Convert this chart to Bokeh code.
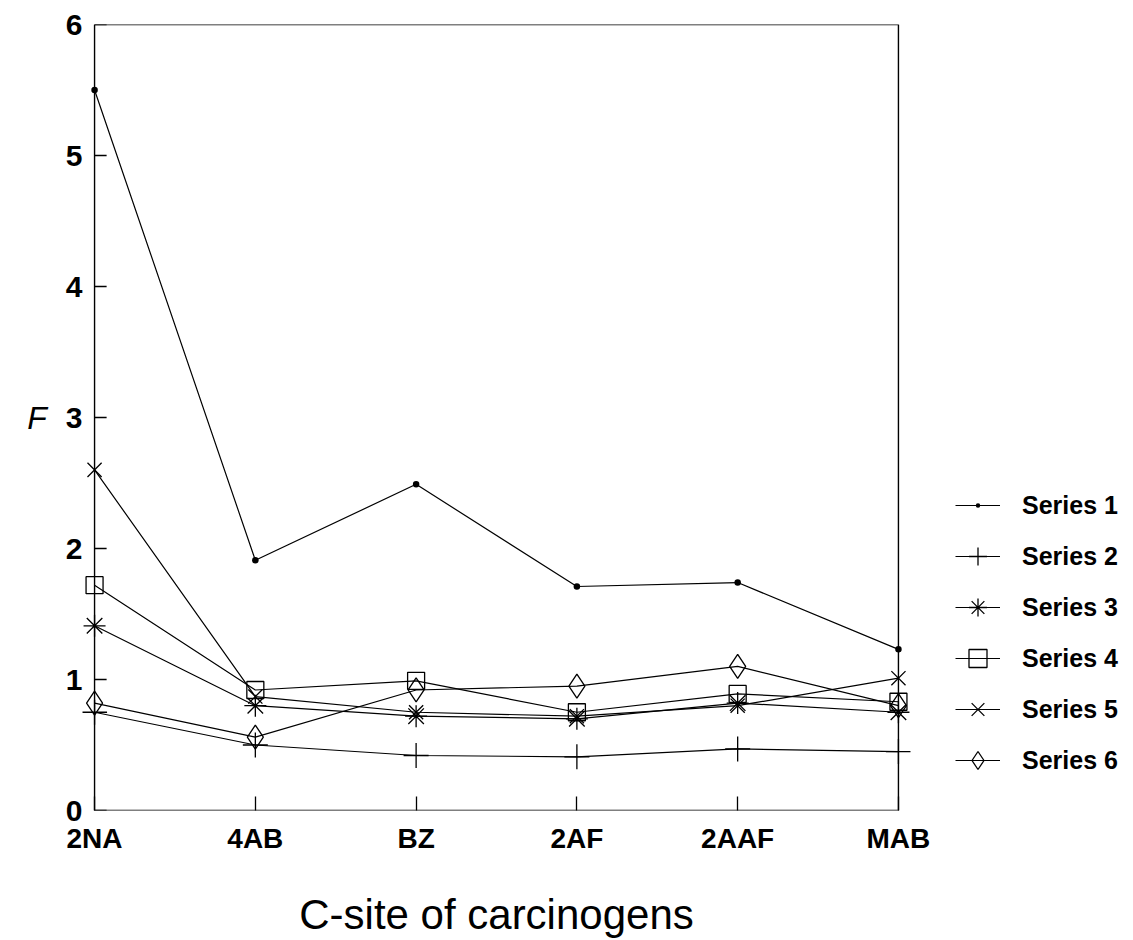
from bokeh.plotting import figure
from bokeh.models import Legend, LegendItem, FixedTicker, Range1d, BoxAnnotation
from bokeh.embed import file_html
from bokeh.resources import INLINE

categories = ["2NA", "4AB", "BZ", "2AF", "2AAF", "MAB"]
series_names = ["Series 1", "Series 2", "Series 3", "Series 4", "Series 5", "Series 6"]
s1 = [5.50, 1.91, 2.49, 1.71, 1.74, 1.23]
s2 = [0.75, 0.50, 0.42, 0.41, 0.47, 0.45]
s3 = [1.41, 0.80, 0.72, 0.70, 0.82, 0.75]
s4 = [1.72, 0.92, 0.99, 0.75, 0.89, 0.83]
s5 = [2.60, 0.87, 0.75, 0.72, 0.80, 1.01]
s6 = [0.82, 0.56, 0.92, 0.95, 1.10, 0.80]
y_ticks = [0, 1, 2, 3, 4, 5, 6]

xs = list(range(len(categories)))
x_last = len(categories) - 1
pad = 0.075
tick_len = 0.075  # inward tick length on the left edge, in x units

p = figure(frame_width=828, frame_height=786, output_backend="svg", toolbar_location=None,
           x_range=Range1d(-pad, x_last + pad), y_range=Range1d(y_ticks[0], y_ticks[-1]),
           min_border_left=82, min_border_top=24, min_border_right=207, min_border_bottom=114)
p.background_fill_color = "white"
p.border_fill_color = "white"
p.outline_line_color = None
p.grid.visible = False

# the axes box spans the first..last category and 0..6
p.add_layout(BoxAnnotation(left=0, right=x_last, bottom=y_ticks[0], top=y_ticks[-1],
                           fill_alpha=0, line_color="black", line_alpha=1.0, line_width=1.4))

# inward tick marks on the left edge of the box
p.segment(x0=[0] * len(y_ticks), y0=y_ticks, x1=[tick_len] * len(y_ticks), y1=y_ticks,
          line_color="black", line_width=1.3)

font = "Liberation Sans"
p.xaxis.ticker = FixedTicker(ticks=xs)
p.xaxis.major_label_overrides = {i: c for i, c in enumerate(categories)}
p.yaxis.ticker = FixedTicker(ticks=y_ticks)
for ax in (p.xaxis, p.yaxis):
    ax.axis_line_color = None
    ax.minor_tick_line_color = None
    ax.major_label_text_font = font
    ax.major_label_text_font_style = "bold"
    ax.major_label_text_color = "black"
p.xaxis.major_tick_in = 14
p.xaxis.major_tick_out = 0
p.xaxis.major_tick_line_color = "black"
p.xaxis.major_tick_line_width = 1.3
p.yaxis.major_tick_line_color = None
p.yaxis.major_tick_in = 0
p.yaxis.major_tick_out = 0
p.xaxis.major_label_text_font_size = "28px"
p.yaxis.major_label_text_font_size = "30px"
p.xaxis.major_label_standoff = 12
p.yaxis.major_label_standoff = 0

p.xaxis.axis_label = "C-site of carcinogens"
p.xaxis.axis_label_text_font = font
p.xaxis.axis_label_text_font_style = "normal"
p.xaxis.axis_label_text_font_size = "42px"
p.xaxis.axis_label_text_color = "black"
p.xaxis.axis_label_standoff = 34

p.yaxis.axis_label = "F"
p.yaxis.axis_label_orientation = "horizontal"
p.yaxis.axis_label_text_font = font
p.yaxis.axis_label_text_font_style = "italic"
p.yaxis.axis_label_text_font_size = "32px"
p.yaxis.axis_label_text_color = "black"
p.yaxis.axis_label_standoff = 16

data = [s1, s2, s3, s4, s5, s6]
markers = ["dot", "cross", "asterisk", "square", "x", "diamond"]
sizes = [26, 25, 22, 17, 20, 24]
items = []
for name, ys, m, sz in zip(series_names, data, markers, sizes):
    ln = p.line(xs, ys, line_color="black", line_width=1.2)
    sc = p.scatter(xs, ys, marker=m, size=sz, fill_color=None, line_color="black", line_width=1.3)
    items.append(LegendItem(label=name, renderers=[ln, sc]))

legend = Legend(items=items, location=(45, 25))
legend.label_text_font = font
legend.label_text_font_style = "bold"
legend.label_text_font_size = "25px"
legend.label_text_color = "black"
legend.glyph_width = 45
legend.glyph_height = 50
legend.label_height = 24
legend.spacing = 1
legend.label_standoff = 22
legend.padding = 0
legend.margin = 0
legend.border_line_color = None
legend.background_fill_alpha = 0
p.add_layout(legend, "right")

open("out.html", "w").write(file_html(p, INLINE))
